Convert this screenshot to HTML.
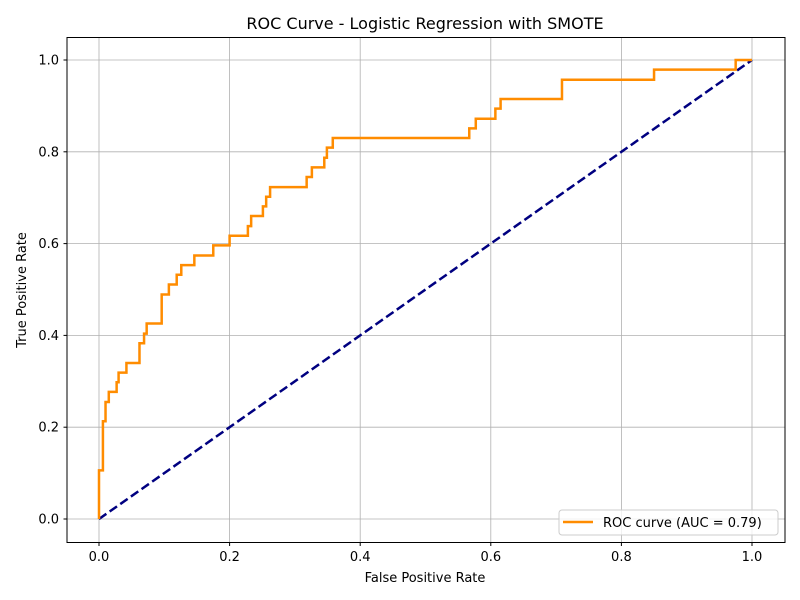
<!DOCTYPE html>
<html><head><meta charset="utf-8"><style>
html,body{margin:0;padding:0;background:#fff;}
svg{display:block;font-family:"DejaVu Sans","Liberation Sans",sans-serif;}
</style></head><body>
<svg id="chart" width="800" height="600" xmlns="http://www.w3.org/2000/svg">
<rect width="800" height="600" fill="#fff"/>
<text x="425" y="29" text-anchor="middle" font-size="16" fill="#000">ROC Curve - Logistic Regression with SMOTE</text>
<g id="grid"></g>
<g id="ticks"></g>
<g id="series"></g>
<rect x="67" y="37.5" width="718" height="505" fill="none" stroke="#000" stroke-width="1"/>
<text x="425" y="582" text-anchor="middle" font-size="13">False Positive Rate</text>
<text transform="translate(26,290) rotate(-90)" text-anchor="middle" font-size="13">True Positive Rate</text>
<g>
<rect x="559" y="510" width="219" height="25" rx="3" fill="#fff" fill-opacity="0.8" stroke="#ccc"/>
<line x1="563" y1="522" x2="593" y2="522" stroke="#ff8c00" stroke-width="2.5"/>
<text x="603" y="527" font-size="13">ROC curve (AUC = 0.79)</text>
</g>
</svg>
<script>
const fpr = [0,0,0.006,0.006,0.01,0.01,0.015,0.015,0.027,0.027,0.03,0.03,0.042,0.042,0.062,0.062,0.069,0.069,0.073,0.073,0.096,0.096,0.107,0.107,0.119,0.119,0.126,0.126,0.146,0.146,0.175,0.175,0.2,0.2,0.228,0.228,0.233,0.233,0.251,0.251,0.256,0.256,0.262,0.262,0.318,0.318,0.326,0.326,0.345,0.345,0.349,0.349,0.358,0.358,0.567,0.567,0.577,0.577,0.607,0.607,0.615,0.615,0.709,0.709,0.85,0.85,0.975,0.975,1];
const tpr = [0,0.106,0.106,0.213,0.213,0.255,0.255,0.277,0.277,0.298,0.298,0.319,0.319,0.340,0.340,0.383,0.383,0.404,0.404,0.426,0.426,0.489,0.489,0.511,0.511,0.532,0.532,0.553,0.553,0.574,0.574,0.596,0.596,0.617,0.617,0.638,0.638,0.660,0.660,0.681,0.681,0.702,0.702,0.723,0.723,0.745,0.745,0.766,0.766,0.787,0.787,0.809,0.809,0.830,0.830,0.851,0.851,0.872,0.872,0.894,0.894,0.915,0.915,0.957,0.957,0.979,0.979,1,1];
const diagX = [0,1];
const diagY = [0,1];
const xTicks = [0,0.2,0.4,0.6,0.8,1.0];
const yTicks = [0,0.2,0.4,0.6,0.8,1.0];
const xTickLabels = ["0.0","0.2","0.4","0.6","0.8","1.0"];
const yTickLabels = ["0.0","0.2","0.4","0.6","0.8","1.0"];

const NS="http://www.w3.org/2000/svg";
function sx(v){return 99+v*653;}
function sy(v){return 519-v*459;}
function mk(tag,attrs,parent){const e=document.createElementNS(NS,tag);for(const k in attrs)e.setAttribute(k,attrs[k]);parent.appendChild(e);return e;}
const grid=document.getElementById('grid'),ticks=document.getElementById('ticks'),series=document.getElementById('series');
xTicks.forEach((t,i)=>{
  const g=mk('line',{x1:sx(t),x2:sx(t),y1:37.5,y2:542.5,stroke:'#b0b0b0','stroke-width':0.8},grid);
  
  
  mk('line',{x1:sx(t),x2:sx(t),y1:542.5,y2:546,stroke:'#000'},ticks);
  const l=mk('text',{x:sx(t),y:561,'text-anchor':'middle','font-size':13},ticks);
  l.textContent=xTickLabels[i];
  
  
});
yTicks.forEach((t,i)=>{
  const g=mk('line',{x1:67,x2:785,y1:sy(t),y2:sy(t),stroke:'#b0b0b0','stroke-width':0.8},grid);
  
  
  mk('line',{x1:63.5,x2:67,y1:sy(t),y2:sy(t),stroke:'#000'},ticks);
  const l=mk('text',{x:59,y:sy(t)+4.5,'text-anchor':'end','font-size':13},ticks);
  l.textContent=yTickLabels[i];
  
  
});
const d=mk('polyline',{points:diagX.map((x,i)=>sx(x)+','+sy(diagY[i])).join(' '),fill:'none',stroke:'#000080','stroke-width':2.5,'stroke-dasharray':'9,4'},series);


const r=mk('polyline',{points:fpr.map((x,i)=>sx(x)+','+sy(tpr[i])).join(' '),fill:'none',stroke:'#ff8c00','stroke-width':2.5},series);


</script>
</body></html>
